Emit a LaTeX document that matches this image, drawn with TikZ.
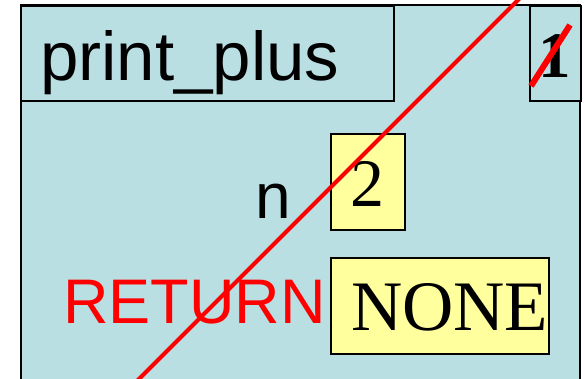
\documentclass[tikz,border=0pt]{standalone}
\usepackage{fontspec}
\setmainfont{Liberation Serif}
\newfontfamily\arialf{Liberation Sans}
\definecolor{framefill}{HTML}{B9DFE3}
\definecolor{valfill}{HTML}{FFFF9E}
\definecolor{strike}{HTML}{FF0000}
\begin{document}
\begin{tikzpicture}[x=1pt,y=-1pt,
  cellbox/.style={draw=black,line width=1.5pt,inner sep=0pt,anchor=north west},
  valbox/.style={cellbox,fill=valfill},
  txt/.style={inner sep=0pt,text=black},
  strikeline/.style={draw=strike,line width=4pt}]
\useasboundingbox (0,0) rectangle (585,378);
\begin{scope}
\clip (0,0) rectangle (585,378);
\fill[framefill] (21,5) rectangle (580,400);
\draw[line width=2pt] (21,400) -- (21,5) -- (580,5) -- (580,400);
\node[cellbox,fill=framefill,minimum width=373pt,minimum height=95pt] (titlebox) at (20,5) {};
\node[cellbox,fill=framefill,minimum width=51pt,minimum height=95pt] (onebox) at (529,5) {};
\node[valbox,minimum width=74pt,minimum height=96pt] (twobox) at (330,133) {};
\node[valbox,minimum width=218pt,minimum height=96pt] (nonebox) at (330,257) {};
\node[txt,anchor=base west,font=\arialf\fontsize{69}{69}\selectfont] (title) at (40,80) {print\_plus};
\node[txt,anchor=base,font=\bfseries\fontsize{65}{65}\selectfont] (one) at (555,77) {1};
\node[txt,anchor=base east,font=\arialf\fontsize{64}{64}\selectfont] (nlabel) at (291,218) {n};
\node[txt,anchor=base,font=\fontsize{68}{68}\selectfont] (two) at (367,206) {2};
\node[txt,anchor=base west,text=strike,font=\arialf\fontsize{63}{63}\selectfont] (ret) at (63,323) {RETURN};
\node[txt,anchor=base west,font=\fontsize{71}{71}\selectfont] (none) at (351,330) {NONE};
\coordinate (s1) at (540,-22);
\coordinate (s2) at (110,408);
\draw[strikeline] (s1) -- (s2);
\coordinate (t1) at (531,86);
\coordinate (t2) at (570,25);
\draw[strikeline,line width=6pt] (t1) -- (t2);
\end{scope}
\end{tikzpicture}
\end{document}
